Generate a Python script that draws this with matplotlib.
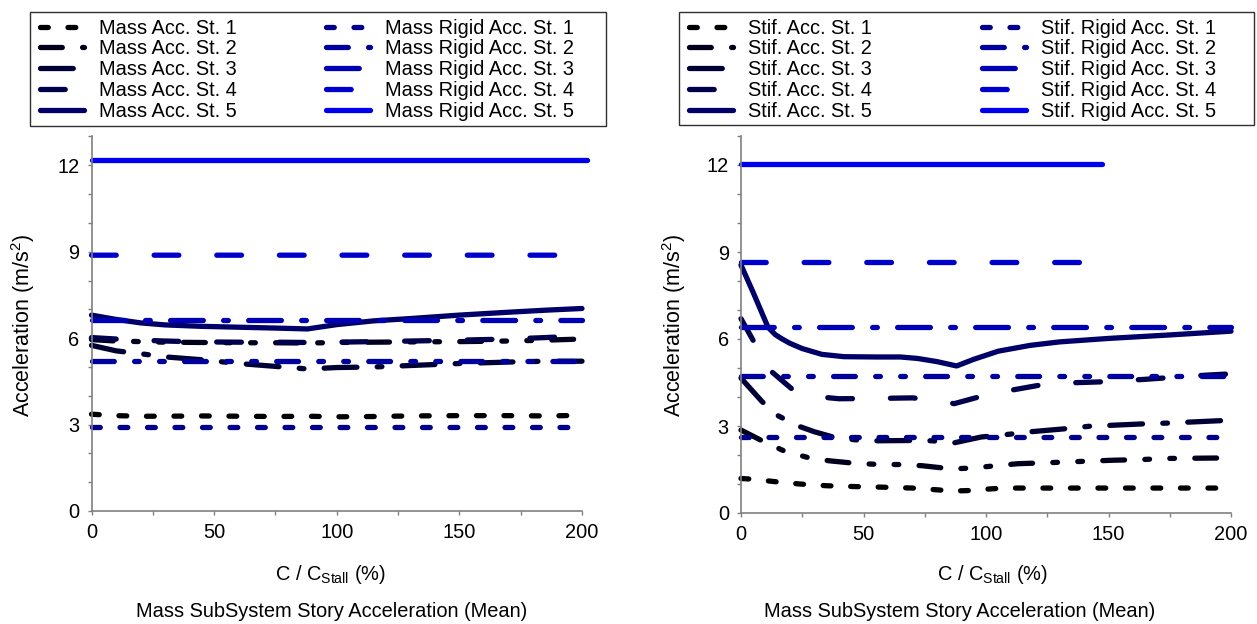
import matplotlib
matplotlib.use("Agg")
import matplotlib.pyplot as plt
from matplotlib.lines import Line2D
from matplotlib.patches import Rectangle
from matplotlib.ticker import MultipleLocator

plt.rcParams['font.family'] = ['Liberation Sans', 'DejaVu Sans']
plt.rcParams['mathtext.default'] = 'regular'
plt.rcParams['lines.scale_dashes'] = False

# ---------------- data ----------------
# left panel: mass subsystem (C/C_stall in %, acceleration in m/s^2)
mass_x_left = [0, 10, 20, 30, 45, 60, 75, 88, 100, 115, 130, 150, 170, 185, 200]
mass_st1_left = [3.36, 3.31, 3.29, 3.29, 3.30, 3.29, 3.28, 3.29, 3.27, 3.28, 3.30, 3.31, 3.31, 3.30, 3.32]
mass_st2_left = [5.95, 5.90, 5.88, 5.86, 5.85, 5.84, 5.84, 5.83, 5.85, 5.86, 5.87, 5.88, 5.90, 5.93, 5.97]
mass_st3_left = [5.75, 5.56, 5.46, 5.35, 5.25, 5.12, 5.02, 4.93, 4.98, 5.00, 5.05, 5.12, 5.17, 5.20, 5.20]
mass_st4_left = [6.02, 5.97, 5.93, 5.90, 5.87, 5.86, 5.86, 5.85, 5.86, 5.88, 5.90, 5.93, 5.97, 6.02, 6.08]
mass_st5_left = [6.80, 6.65, 6.53, 6.46, 6.41, 6.38, 6.35, 6.32, 6.47, 6.60, 6.68, 6.80, 6.90, 6.97, 7.03]

rigid_x_left = [0, 200]
rigid_st1_left = [2.92, 2.92]
rigid_st2_left = [5.20, 5.20]
rigid_st3_left = [6.64, 6.64]
rigid_st4_x_left = [0, 196, 204]
rigid_st4_left = [8.88, 8.88, 8.95]
rigid_st5_x_left = [0, 202]
rigid_st5_left = [12.18, 12.18]

# right panel: stiffness subsystem
stif_st1_x = [0, 4, 14, 24, 35, 47, 58, 70, 80, 86, 92, 100, 107, 120, 150, 200]
stif_st1 = [1.19, 1.17, 1.08, 1.00, 0.94, 0.91, 0.89, 0.86, 0.80, 0.76, 0.77, 0.82, 0.86, 0.86, 0.86, 0.86]
stif_st2_x = [0, 10, 17.6, 27, 36, 47, 55, 65, 74, 86, 94, 113, 124, 133, 152, 163, 173, 200]
stif_st2 = [2.86, 2.43, 2.14, 1.92, 1.80, 1.71, 1.68, 1.67, 1.63, 1.52, 1.55, 1.70, 1.73, 1.76, 1.82, 1.84, 1.88, 1.90]
stif_st3_x = [0, 8.5, 15, 23, 30, 38, 47, 55, 70, 78, 87, 98, 110, 118, 133, 142, 166, 174, 200]
stif_st3 = [4.65, 3.85, 3.36, 3.01, 2.80, 2.61, 2.52, 2.49, 2.50, 2.49, 2.42, 2.62, 2.72, 2.80, 2.91, 2.99, 3.08, 3.10, 3.20]
stif_st4_x = [0, 5.7, 11, 20.6, 30, 40, 55, 70, 80, 87, 97, 110, 122, 135, 150, 165, 185, 200]
stif_st4 = [6.70, 5.84, 4.98, 4.29, 4.02, 3.94, 3.95, 3.97, 3.88, 3.77, 4.00, 4.23, 4.41, 4.49, 4.53, 4.61, 4.73, 4.80]
stif_st5_x = [0, 5, 11, 14, 16.6, 20, 25, 33, 42, 55, 65, 72, 80, 88, 95, 105, 118, 130, 150, 175, 200]
stif_st5 = [8.55, 7.60, 6.41, 6.15, 6.01, 5.85, 5.67, 5.47, 5.39, 5.38, 5.38, 5.33, 5.22, 5.07, 5.30, 5.58, 5.78, 5.90, 6.02, 6.14, 6.27]

stif_rigid_x = [0, 200]
stif_rigid_st1 = [2.62, 2.62]
stif_rigid_st2 = [4.74, 4.74]
stif_rigid_st3 = [6.40, 6.40]
stif_rigid_st4_x = [0, 140]
stif_rigid_st4 = [8.64, 8.64]
stif_rigid_st5_x = [0, 147.5]
stif_rigid_st5 = [12.02, 12.02]

mass_labels = [f"Mass Acc. St. {i}" for i in range(1, 6)]
mass_rigid_labels = [f"Mass Rigid Acc. St. {i}" for i in range(1, 6)]
stif_labels = [f"Stif. Acc. St. {i}" for i in range(1, 6)]
stif_rigid_labels = [f"Stif. Rigid Acc. St. {i}" for i in range(1, 6)]

x_ticks = [0, 50, 100, 150, 200]
y_ticks = [0, 3, 6, 9, 12]

# ---------------- styles ----------------
dash_styles = [
    (0, (5.6, 14.2)),                          # story 1: short dash
    (0, (15.7, 14.6, 3.4, 14.6, 3.4, 14.6)),   # story 2: dash-dot-dot
    (0, (23.6, 14.6, 3.4, 14.6)),              # story 3: long dash-dot
    (0, (17.8, 27.3)),                         # story 4: long dash
    '-',                                       # story 5: solid
]
dark_colors = ['#000004', '#00001c', '#000034', '#00004c', '#000068']
blue_colors = ['#00008c', '#00009f', '#0000b6', '#0000cc', '#0000ee']
LW = 3.8
FS = 14.4

W, H = 1257, 624
fig = plt.figure(figsize=(W / 100, H / 100), dpi=100)


def fx(px):
    return px / W


def fy(py):
    return 1 - py / H


def line_kw(i, colors):
    return dict(color=colors[i], lw=LW, linestyle=dash_styles[i],
                dash_capstyle='round', solid_capstyle='round')


def style_axes(ax):
    ax.set_xlim(0, 200)
    ax.set_ylim(0, 13)
    ax.set_xticks(x_ticks)
    ax.set_yticks(y_ticks)
    ax.xaxis.set_minor_locator(MultipleLocator(25))
    ax.yaxis.set_minor_locator(MultipleLocator(1))
    for s in ('top', 'right'):
        ax.spines[s].set_visible(False)
    for s in ('left', 'bottom'):
        ax.spines[s].set_color('#808080')
        ax.spines[s].set_linewidth(1.2)
    ax.tick_params(which='both', direction='out', length=3.2, width=1.0,
                   color='#808080', labelsize=FS, pad=5.5)
    ax.set_facecolor('none')


def add_legend_column(handles, labels, x_px, y_px):
    leg = fig.legend(handles, labels, loc='upper left',
                     bbox_to_anchor=(fx(x_px), fy(y_px)),
                     bbox_transform=fig.transFigure,
                     frameon=False, borderpad=0, borderaxespad=0,
                     handlelength=2.22, handletextpad=0.72,
                     labelspacing=0.09, fontsize=FS)
    return leg


def legend_box(x0, y0, x1, y1):
    fig.add_artist(Rectangle((fx(x0), fy(y1)), fx(x1) - fx(x0), fy(y0) - fy(y1),
                             transform=fig.transFigure, fill=False,
                             edgecolor='#303030', linewidth=1.0))


# ---------------- left panel ----------------
axL = fig.add_axes([fx(91.5), fy(511), fx(582) - fx(91.5), fy(136.5) - fy(511)])
mass_series = [mass_st1_left, mass_st2_left, mass_st3_left, mass_st4_left, mass_st5_left]
for i, ys in enumerate(mass_series):
    axL.plot(mass_x_left, ys, clip_on=False, **line_kw(i, dark_colors))
rigid_left = [(rigid_x_left, rigid_st1_left), (rigid_x_left, rigid_st2_left),
              (rigid_x_left, rigid_st3_left), (rigid_st4_x_left, rigid_st4_left),
              (rigid_st5_x_left, rigid_st5_left)]
for i, (xs, ys) in enumerate(rigid_left):
    axL.plot(xs, ys, clip_on=False, **line_kw(i, blue_colors))
style_axes(axL)

# ---------------- right panel ----------------
axR = fig.add_axes([fx(741), fy(513), fx(1231) - fx(741), fy(136) - fy(513)])
stif_series = [(stif_st1_x, stif_st1), (stif_st2_x, stif_st2), (stif_st3_x, stif_st3),
               (stif_st4_x, stif_st4), (stif_st5_x, stif_st5)]
for i, (xs, ys) in enumerate(stif_series):
    axR.plot(xs, ys, clip_on=False, **line_kw(i, dark_colors))
stif_rigid = [(stif_rigid_x, stif_rigid_st1), (stif_rigid_x, stif_rigid_st2),
              (stif_rigid_x, stif_rigid_st3), (stif_rigid_st4_x, stif_rigid_st4),
              (stif_rigid_st5_x, stif_rigid_st5)]
for i, (xs, ys) in enumerate(stif_rigid):
    axR.plot(xs, ys, clip_on=False, **line_kw(i, blue_colors))
style_axes(axR)

# ---------------- legends ----------------
dark_handles = [Line2D([], [], **line_kw(i, dark_colors)) for i in range(5)]
blue_handles = [Line2D([], [], **line_kw(i, blue_colors)) for i in range(5)]

legend_box(29.6, 11.7, 605.5, 126)
add_legend_column(dark_handles, mass_labels, 40, 18.5)
add_legend_column(blue_handles, mass_rigid_labels, 326, 18.5)

legend_box(679.3, 11.7, 1254, 125)
add_legend_column(dark_handles, stif_labels, 689, 18.5)
add_legend_column(blue_handles, stif_rigid_labels, 982, 18.5)

# ---------------- axis labels and captions ----------------
for xl, yl_x, cap_x in ((330, 23, 332), (992, 674, 960)):
    fig.text(fx(xl), fy(580), r"C / C$_{Stall}$ (%)", ha='center', va='baseline', fontsize=FS)
    fig.text(fx(yl_x), fy(325), r"Acceleration (m/s$^2$)", ha='center', va='center',
             rotation=90, fontsize=15.5)
    fig.text(fx(cap_x), fy(617), "Mass SubSystem Story Acceleration (Mean)",
             ha='center', va='baseline', fontsize=FS)

fig.savefig("out.png", dpi=100)
